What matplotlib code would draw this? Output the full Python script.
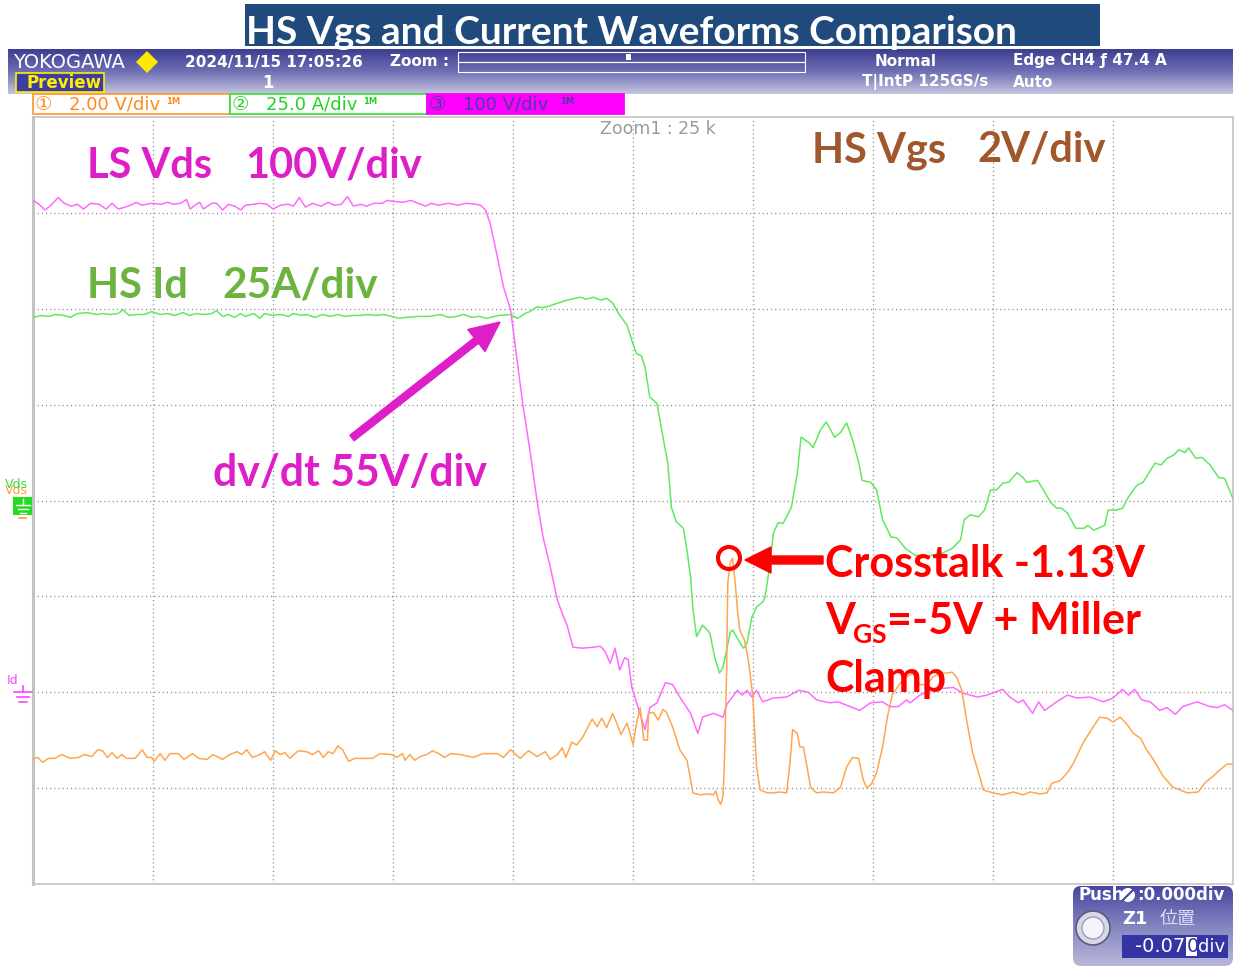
"""Yokogawa capture: HS Vgs and current waveforms comparison."""

import matplotlib

matplotlib.use("Agg")
import matplotlib.pyplot as plt
import numpy as np
from matplotlib import font_manager
from matplotlib.colors import LinearSegmentedColormap
from matplotlib.patches import Circle, FancyArrow, FancyBboxPatch, Polygon, Rectangle


VDS_T = [0.00, 0.05, 0.10, 0.15, 0.21, 0.26, 0.32, 0.37, 0.42, 0.48,
         0.55, 0.61, 0.66, 0.71, 0.77, 0.83, 0.86, 0.91, 0.99, 1.07,
         1.12, 1.17, 1.23, 1.28, 1.31, 1.36, 1.39, 1.42, 1.49, 1.53,
         1.58, 1.63, 1.68, 1.73, 1.77, 1.84, 1.89, 1.95, 2.00, 2.06,
         2.13, 2.17, 2.22, 2.27, 2.33, 2.40, 2.46, 2.51, 2.57, 2.62,
         2.67, 2.73, 2.78, 2.84, 2.91, 2.95, 3.00, 3.08, 3.15, 3.23,
         3.27, 3.32, 3.38, 3.46, 3.54, 3.61, 3.69, 3.73, 3.77, 3.81,
         3.87, 3.92, 3.98, 4.03, 4.08, 4.14, 4.20, 4.25, 4.31, 4.37,
         4.42, 4.45, 4.50, 4.58, 4.67, 4.73, 4.77, 4.81, 4.85, 4.89,
         4.93, 4.96, 4.99, 5.04, 5.10, 5.14, 5.20, 5.27, 5.33, 5.39,
         5.48, 5.54, 5.58, 5.67, 5.75, 5.78, 5.87, 5.91, 5.95, 5.99,
         6.03, 6.08, 6.17, 6.28, 6.38, 6.46, 6.53, 6.64, 6.71, 6.81,
         6.89, 6.98, 7.08, 7.14, 7.21, 7.28, 7.31, 7.39, 7.48, 7.58,
         7.67, 7.75, 7.87, 7.95, 8.08, 8.14, 8.21, 8.25, 8.33, 8.38,
         8.43, 8.53, 8.62, 8.70, 8.81, 8.92, 9.00, 9.08, 9.13, 9.18,
         9.24, 9.31, 9.39, 9.45, 9.52, 9.58, 9.70, 9.81, 9.87, 9.93,
         10.0]
VDS_V = [7.13, 7.09, 7.03, 7.08, 7.16, 7.10, 7.07, 7.09, 7.04, 7.10,
         7.09, 7.04, 7.10, 7.04, 7.06, 7.09, 7.11, 7.08, 7.10, 7.09,
         7.11, 7.09, 7.10, 7.14, 7.04, 7.09, 7.11, 7.04, 7.10, 7.10,
         7.03, 7.09, 7.07, 7.03, 7.08, 7.09, 7.10, 7.09, 7.04, 7.08,
         7.09, 7.07, 7.16, 7.06, 7.10, 7.07, 7.11, 7.08, 7.09, 7.17,
         7.07, 7.09, 7.07, 7.10, 7.10, 7.13, 7.12, 7.11, 7.13, 7.09,
         7.07, 7.10, 7.08, 7.10, 7.08, 7.10, 7.09, 7.08, 7.03, 6.89,
         6.54, 6.23, 5.99, 5.50, 5.02, 4.53, 4.00, 3.62, 3.31, 2.96,
         2.79, 2.70, 2.47, 2.46, 2.47, 2.48, 2.42, 2.30, 2.46, 2.23,
         2.36, 2.34, 2.05, 1.85, 1.61, 1.84, 1.89, 2.10, 2.08, 1.95,
         1.78, 1.57, 1.74, 1.78, 1.74, 1.87, 2.02, 1.97, 2.02, 1.95,
         2.02, 1.90, 1.94, 1.95, 2.02, 2.00, 1.92, 1.89, 1.90, 1.85,
         1.81, 1.89, 1.90, 1.85, 1.85, 1.92, 1.89, 1.97, 2.02, 2.04,
         2.05, 1.99, 1.95, 1.97, 2.03, 1.95, 1.89, 1.92, 1.78, 1.90,
         1.81, 1.90, 1.97, 1.94, 1.95, 1.90, 1.94, 2.03, 1.97, 2.03,
         1.92, 1.90, 1.81, 1.84, 1.77, 1.85, 1.90, 1.85, 1.84, 1.87,
         1.81]

ID_T = [0.00, 0.07, 0.13, 0.19, 0.26, 0.31, 0.37, 0.45, 0.53, 0.58,
        0.64, 0.71, 0.75, 0.80, 0.86, 0.93, 0.99, 1.06, 1.12, 1.18,
        1.25, 1.30, 1.36, 1.42, 1.49, 1.53, 1.58, 1.63, 1.68, 1.73,
        1.77, 1.84, 1.89, 1.93, 2.00, 2.06, 2.13, 2.17, 2.24, 2.28,
        2.35, 2.41, 2.48, 2.54, 2.60, 2.67, 2.73, 2.79, 2.86, 2.92,
        2.99, 3.05, 3.11, 3.21, 3.30, 3.40, 3.46, 3.53, 3.59, 3.66,
        3.72, 3.78, 3.88, 3.98, 4.04, 4.10, 4.14, 4.20, 4.25, 4.33,
        4.45, 4.56, 4.61, 4.67, 4.73, 4.78, 4.83, 4.89, 4.95, 4.99,
        5.03, 5.07, 5.10, 5.14, 5.20, 5.25, 5.29, 5.32, 5.36, 5.42,
        5.45, 5.48, 5.50, 5.53, 5.58, 5.64, 5.68, 5.72, 5.75, 5.78,
        5.81, 5.83, 5.88, 5.92, 5.95, 5.99, 6.03, 6.08, 6.10, 6.13,
        6.17, 6.21, 6.25, 6.28, 6.32, 6.37, 6.40, 6.47, 6.50, 6.56,
        6.61, 6.68, 6.73, 6.78, 6.83, 6.88, 6.91, 6.98, 7.03, 7.08,
        7.15, 7.20, 7.27, 7.35, 7.43, 7.56, 7.66, 7.73, 7.76, 7.81,
        7.88, 7.93, 7.98, 8.03, 8.08, 8.13, 8.20, 8.25, 8.28, 8.37,
        8.42, 8.48, 8.53, 8.57, 8.62, 8.69, 8.76, 8.79, 8.84, 8.93,
        8.96, 9.03, 9.08, 9.13, 9.20, 9.25, 9.30, 9.35, 9.40, 9.45,
        9.50, 9.55, 9.60, 9.63, 9.69, 9.74, 9.81, 9.88, 9.93, 9.98,
        10.0]
ID_V = [5.91, 5.93, 5.92, 5.94, 5.93, 5.91, 5.95, 5.96, 5.94, 5.95,
        5.94, 5.95, 5.99, 5.93, 5.94, 5.94, 5.97, 5.94, 5.95, 5.93,
        5.96, 5.93, 5.95, 5.94, 5.95, 5.98, 5.92, 5.94, 5.91, 5.95,
        5.92, 5.95, 5.90, 5.95, 5.93, 5.94, 5.92, 5.95, 5.93, 5.94,
        5.91, 5.94, 5.92, 5.94, 5.92, 5.93, 5.93, 5.94, 5.93, 5.94,
        5.92, 5.90, 5.91, 5.92, 5.92, 5.94, 5.91, 5.92, 5.94, 5.91,
        5.92, 5.90, 5.93, 5.94, 5.90, 5.95, 5.97, 6.02, 6.01, 6.04,
        6.09, 6.12, 6.10, 6.12, 6.09, 6.11, 6.06, 5.93, 5.83, 5.67,
        5.53, 5.51, 5.39, 5.08, 5.01, 4.66, 4.39, 3.93, 3.78, 3.71,
        3.48, 3.20, 2.86, 2.58, 2.70, 2.62, 2.37, 2.20, 2.26, 2.44,
        2.62, 2.65, 2.54, 2.46, 2.51, 2.78, 2.89, 2.94, 2.99, 3.24,
        3.66, 3.77, 3.76, 3.83, 3.93, 4.29, 4.66, 4.60, 4.55, 4.73,
        4.82, 4.66, 4.71, 4.81, 4.63, 4.40, 4.21, 4.19, 4.11, 3.80,
        3.62, 3.61, 3.50, 3.43, 3.42, 3.44, 3.50, 3.59, 3.80, 3.85,
        3.83, 3.90, 4.11, 4.11, 4.18, 4.19, 4.29, 4.24, 4.19, 4.21,
        4.11, 3.98, 3.92, 3.92, 3.87, 3.71, 3.71, 3.74, 3.69, 3.74,
        3.90, 3.90, 3.92, 4.04, 4.16, 4.19, 4.29, 4.39, 4.37, 4.44,
        4.47, 4.53, 4.50, 4.55, 4.44, 4.45, 4.37, 4.24, 4.23, 4.08,
        4.02]

VGS_T = [0.00, 0.04, 0.08, 0.13, 0.18, 0.24, 0.31, 0.38, 0.43, 0.49,
         0.54, 0.58, 0.62, 0.66, 0.70, 0.74, 0.78, 0.85, 0.91, 0.95,
         0.99, 1.01, 1.06, 1.10, 1.14, 1.21, 1.26, 1.33, 1.38, 1.45,
         1.50, 1.58, 1.64, 1.70, 1.74, 1.78, 1.83, 1.89, 1.93, 1.98,
         2.02, 2.06, 2.10, 2.14, 2.21, 2.28, 2.33, 2.38, 2.42, 2.46,
         2.50, 2.54, 2.58, 2.63, 2.68, 2.75, 2.83, 2.89, 2.99, 3.03,
         3.08, 3.10, 3.14, 3.18, 3.23, 3.28, 3.33, 3.38, 3.43, 3.48,
         3.56, 3.67, 3.75, 3.87, 3.92, 3.98, 4.06, 4.13, 4.20, 4.27,
         4.31, 4.37, 4.41, 4.44, 4.49, 4.53, 4.58, 4.66, 4.70, 4.74,
         4.78, 4.83, 4.87, 4.90, 4.95, 4.98, 5.00, 5.03, 5.06, 5.09,
         5.12, 5.13, 5.17, 5.21, 5.25, 5.28, 5.33, 5.39, 5.45, 5.50,
         5.56, 5.62, 5.67, 5.69, 5.71, 5.73, 5.75, 5.76, 5.77, 5.78,
         5.785, 5.79, 5.81, 5.83, 5.835, 5.85, 5.87, 5.89, 5.93, 5.96,
         5.99, 6.00, 6.03, 6.06, 6.12, 6.17, 6.22, 6.28, 6.31, 6.33,
         6.37, 6.39, 6.42, 6.45, 6.48, 6.53, 6.58, 6.67, 6.73, 6.78,
         6.83, 6.88, 6.92, 6.95, 6.99, 7.03, 7.08, 7.12, 7.16, 7.23,
         7.28, 7.33, 7.39, 7.45, 7.50, 7.56, 7.62, 7.66, 7.70, 7.74,
         7.78, 7.83, 7.88, 7.92, 8.00, 8.08, 8.17, 8.25, 8.31, 8.39,
         8.45, 8.49, 8.56, 8.62, 8.67, 8.75, 8.83, 8.89, 8.95, 9.00,
         9.06, 9.12, 9.17, 9.23, 9.28, 9.33, 9.42, 9.50, 9.62, 9.71,
         9.77, 9.83, 9.89, 9.95, 10.0]
VGS_V = [1.31, 1.32, 1.27, 1.31, 1.31, 1.35, 1.31, 1.32, 1.35, 1.33,
         1.40, 1.39, 1.32, 1.37, 1.31, 1.35, 1.31, 1.31, 1.40, 1.32,
         1.32, 1.28, 1.36, 1.29, 1.36, 1.36, 1.30, 1.36, 1.31, 1.30,
         1.35, 1.30, 1.35, 1.38, 1.35, 1.40, 1.32, 1.35, 1.38, 1.29,
         1.39, 1.35, 1.37, 1.31, 1.39, 1.38, 1.35, 1.39, 1.32, 1.38,
         1.36, 1.44, 1.40, 1.28, 1.31, 1.31, 1.31, 1.36, 1.35, 1.32,
         1.36, 1.29, 1.35, 1.29, 1.33, 1.35, 1.39, 1.36, 1.32, 1.36,
         1.35, 1.32, 1.36, 1.36, 1.32, 1.40, 1.31, 1.39, 1.33, 1.38,
         1.30, 1.35, 1.42, 1.32, 1.48, 1.45, 1.53, 1.72, 1.64, 1.73,
         1.63, 1.78, 1.66, 1.56, 1.68, 1.55, 1.45, 1.68, 1.84, 1.50,
         1.50, 1.78, 1.79, 1.71, 1.82, 1.79, 1.64, 1.40, 1.29, 0.95,
         0.93, 0.94, 0.93, 0.97, 0.88, 0.83, 0.91, 1.19, 1.68, 2.20,
         2.72, 3.14, 3.35, 3.40, 3.31, 3.17, 2.86, 2.65, 2.54, 2.34,
         2.05, 1.92, 1.22, 0.98, 0.95, 0.95, 0.96, 0.95, 1.29, 1.61,
         1.57, 1.43, 1.43, 1.22, 1.01, 0.95, 0.96, 0.95, 1.01, 1.22,
         1.32, 1.31, 1.08, 1.00, 1.05, 1.16, 1.43, 1.74, 1.97, 2.10,
         2.16, 2.20, 2.08, 2.08, 2.16, 2.20, 2.20, 2.21, 2.15, 2.02,
         1.71, 1.37, 1.16, 0.98, 0.95, 0.93, 0.96, 0.93, 0.96, 0.94,
         0.95, 1.05, 1.08, 1.16, 1.26, 1.47, 1.63, 1.74, 1.73, 1.69,
         1.74, 1.66, 1.57, 1.52, 1.40, 1.31, 1.12, 1.01, 0.95, 0.96,
         1.06, 1.12, 1.19, 1.25, 1.25]

CHANNEL_LABELS = ["\u2460", "\u2461", "\u2462"]
CHANNEL_SCALES = ["2.00 V/div", "25.0 A/div", "100 V/div"]

W, H, DPI = 1235, 966, 100
C_VGS, C_ID, C_VDS = "#FFA64D", "#5EEA5E", "#FF6AFF"
C_MAG, C_GRN, C_BRN, C_RED = "#DE1FC8", "#6CB33F", "#A0572B", "#FF0000"

installed = {f.name for f in font_manager.fontManager.ttflist}
NARROW = "Liberation Sans Narrow" if "Liberation Sans Narrow" in installed else "DejaVu Sans"
SCOPE = [NARROW, "DejaVu Sans"]
SLIDE = "Lato" if "Lato" in installed else "DejaVu Sans"

fig = plt.figure(figsize=(W / DPI, H / DPI), dpi=DPI)

# graticule, figure pixels x 33..1233, y 117..884
GL, GR, GT, GB = 33, 1233, 117, 884
ax = fig.add_axes([GL / W, 1 - GB / H, (GR - GL) / W, (GB - GT) / H], zorder=1)
ax.set_xlim(0, 10)
ax.set_ylim(0, 8)
ax.set_xticks([])
ax.set_yticks([])
for side, spine in ax.spines.items():
    spine.set_color("#c4c4c4")
    spine.set_linewidth(2.2 if side == "left" else 1.2)
for gx in range(1, 10):
    ax.axvline(gx, color="#8c8c8c", lw=1.0, ls=(0, (0.8, 2.2)), zorder=1)
for gy in range(1, 8):
    ax.axhline(gy, color="#8c8c8c", lw=1.0, ls=(0, (0.8, 2.2)), zorder=1)

ax.plot(VDS_T, VDS_V, color=C_VDS, lw=1.1, zorder=3)
ax.plot(ID_T, ID_V, color=C_ID, lw=1.1, zorder=3)
ax.plot(VGS_T, VGS_V, color=C_VGS, lw=1.1, zorder=4)

# overlay in figure pixels (y down)
ov = fig.add_axes([0, 0, 1, 1], zorder=2)
ov.set_axis_off()
ov.patch.set_alpha(0)


def gradient(x0, x1, y0, y1, colors, clip=None):
    cmap = LinearSegmentedColormap.from_list("g", colors)
    im = ov.imshow(np.linspace(0, 1, 64).reshape(-1, 1), cmap=cmap, aspect="auto",
                   extent=[x0, x1, y1, y0], interpolation="bilinear", zorder=1)
    if clip is not None:
        im.set_clip_path(clip)


# slide title
ov.add_patch(Rectangle((245, 4), 855, 42, facecolor="#20497C", edgecolor="none", zorder=1))
ov.text(246, 44, "HS Vgs and Current Waveforms Comparison", color="white", fontsize=28,
        fontfamily=SLIDE, fontweight="bold", va="baseline", zorder=6)

# scope header
HEAD = ["#3E3E92", "#6F6FB4", "#C4C4E0"]
gradient(8, 1233, 49, 94, HEAD)
ov.text(13, 62, "YOKOGAWA", color="white", fontsize=14, fontfamily=SCOPE, va="center", zorder=3)
ov.add_patch(Polygon([(147, 51), (158, 62), (147, 73), (136, 62)], closed=True,
                     facecolor="#FFE800", edgecolor="none", zorder=3))
ov.text(185, 62, "2024/11/15 17:05:26", color="white", fontsize=11, fontfamily=SCOPE,
        fontweight="bold", va="center", zorder=3)
ov.text(390, 62, "Zoom :", color="white", fontsize=11, fontfamily=SCOPE, fontweight="bold",
        va="center", zorder=3)
ov.add_patch(Rectangle((458, 52), 347, 10, facecolor="none", edgecolor="white", lw=0.8, zorder=3))
ov.add_patch(Rectangle((458, 62), 347, 10, facecolor="none", edgecolor="white", lw=0.8, zorder=3))
ov.add_patch(Rectangle((626, 54), 5, 6, facecolor="white", edgecolor="none", zorder=3))
ov.add_patch(Rectangle((16, 73), 88, 19, facecolor="#3E3EA2", edgecolor="#FFEE00", lw=1.2, zorder=3))
ov.text(27, 82.5, "Preview", color="#FFEE00", fontsize=12, fontfamily=SCOPE, fontweight="bold",
        va="center", zorder=4)
ov.text(262, 82.5, "1", color="white", fontsize=12, fontfamily=SCOPE, fontweight="bold",
        va="center", zorder=3)
ov.text(875, 61, "Normal", color="white", fontsize=11, fontfamily=SCOPE, fontweight="bold",
        va="center", zorder=3)
ov.text(862, 82.5, "T|IntP 125GS/s", color="white", fontsize=11, fontfamily=SCOPE,
        fontweight="bold", va="center", zorder=3)
ov.text(1013, 61, "Edge CH4 \u0192 47.4 A", color="white", fontsize=11, fontfamily=SCOPE,
        fontweight="bold", va="center", zorder=3)
ov.text(1013, 82.5, "Auto", color="white", fontsize=11, fontfamily=SCOPE, fontweight="bold",
        va="center", zorder=3)

# channel bar
box_x = [33, 230, 427]
edge_c = ["#FF9A3C", "#3EE03E", "#FF00FF"]
face_c = ["white", "white", "#FF00FF"]
text_c = ["#FF8A1A", "#22D422", "#4B3BA6"]
for i in range(3):
    ov.add_patch(Rectangle((box_x[i], 94), 197, 20, facecolor=face_c[i], edgecolor=edge_c[i],
                           lw=1.3, zorder=3))
    ov.text(box_x[i] + 2, 104.5, CHANNEL_LABELS[i], color=text_c[i], fontsize=14,
            fontfamily="DejaVu Sans", va="center", zorder=4)
    ov.text(box_x[i] + 36, 104.5, CHANNEL_SCALES[i], color=text_c[i], fontsize=13,
            fontfamily=SCOPE, va="center", zorder=4)
    ov.text(box_x[i] + 133, 101, "1M", color=text_c[i], fontsize=6, fontfamily=SCOPE,
            fontweight="bold", va="center", zorder=4)
ov.text(600, 129, "Zoom1 : 25 k", color="#9a9a9a", fontsize=12.5, fontfamily=SCOPE,
        va="center", zorder=3)

# ground markers on the left edge
ov.text(5, 490, "Vds", color="#FF9A3C", fontsize=9, fontfamily="DejaVu Sans", va="center", zorder=3)
ov.text(5, 484, "Vds", color="#33DD33", fontsize=9, fontfamily="DejaVu Sans", va="center", zorder=3)
ov.add_patch(Rectangle((13, 497), 19, 18, facecolor="#22DD22", edgecolor="none", zorder=3))
for yy, half in [(505, 7), (509, 5), (513, 3)]:
    ov.plot([22.5 - half, 22.5 + half], [yy, yy], color="white", lw=1.0, zorder=4)
ov.plot([22.5, 22.5], [499, 505], color="white", lw=1.0, zorder=4)
ov.plot([19, 26], [518, 518], color="#FF9A3C", lw=1.2, zorder=4)
ov.text(7, 680, "Id", color="#FF44FF", fontsize=9, fontfamily="DejaVu Sans", va="center", zorder=3)
for yy, half in [(692, 9), (697, 6), (702, 4)]:
    ov.plot([23 - half, 23 + half], [yy, yy], color="#FF44FF", lw=1.2, zorder=4)
ov.plot([23, 23], [686, 692], color="#FF44FF", lw=1.2, zorder=4)


# slide annotations
def label(x, y, s, color, size):
    ov.text(x, y, s, color=color, fontsize=size, fontfamily=SLIDE, fontweight="bold",
            va="baseline", zorder=6)


label(87, 178, "LS Vds", C_MAG, 30)
label(245, 178, "100V/div", C_MAG, 30)
label(87, 298, "HS Id", C_GRN, 30)
label(222, 298, "25A/div", C_GRN, 30.5)
label(812, 162, "HS Vgs", C_BRN, 30)
label(977, 162, "2V/div", C_BRN, 30)
label(213, 486, "dv/dt 55V/div", C_MAG, 30.8)
label(825, 577, "Crosstalk -1.13V", C_RED, 31)
label(825, 634, "V", C_RED, 31)
label(853, 643, "GS", C_RED, 19)
label(887, 634, "=-5V + Miller", C_RED, 31)
label(825, 692, "Clamp", C_RED, 31)

ov.add_patch(FancyArrow(352, 438, 148, -116, width=7, head_width=28, head_length=30,
                        length_includes_head=True, color=C_MAG, zorder=6))
ov.add_patch(FancyArrow(823, 560, -78, 0, width=8, head_width=26, head_length=26,
                        length_includes_head=True, color=C_RED, zorder=6))
ov.add_patch(Circle((729, 558), 11, facecolor="none", edgecolor=C_RED, lw=3, zorder=6))

# zoom position panel, bottom right
panel = FancyBboxPatch((1073, 886), 160, 80, boxstyle="round,pad=0,rounding_size=8",
                       facecolor="none", edgecolor="none", zorder=1)
ov.add_patch(panel)
gradient(1073, 1233, 886, 966, ["#4646A0", "#8484C0", "#B8B8DA"], clip=panel)
ov.text(1078, 895, "Push", color="white", fontsize=12, fontfamily=SCOPE, fontweight="bold",
        va="center", zorder=3)
ov.add_patch(Circle((1128, 895), 7, facecolor="white", edgecolor="none", zorder=3))
ov.plot([1123, 1133], [900, 890], color="#4646A0", lw=1.5, zorder=4)
ov.text(1137, 895, ":0.000div", color="white", fontsize=12, fontfamily=SCOPE, fontweight="bold",
        va="center", zorder=3)
ov.text(1122, 919, "Z1", color="white", fontsize=13, fontfamily=SCOPE, fontweight="bold",
        va="center", zorder=3)
ov.text(1160, 919, "位置", color="#DCDCFA", fontsize=13,
        fontfamily=["Noto Sans CJK JP", "DejaVu Sans"], va="center", zorder=3)
ov.add_patch(Rectangle((1122, 935), 106, 23, facecolor="#3434A4", edgecolor="none", zorder=3))
ov.add_patch(Rectangle((1186, 937), 11, 19, facecolor="white", edgecolor="none", zorder=4))
ov.text(1185, 946.5, "-0.07", color="white", fontsize=14, fontfamily=SCOPE, va="center",
        ha="right", zorder=5)
ov.text(1187, 946.5, "0", color="#3434A4", fontsize=14, fontfamily=SCOPE, va="center", zorder=5)
ov.text(1198, 946.5, "div", color="white", fontsize=13, fontfamily=SCOPE, va="center", zorder=5)
ov.add_patch(Circle((1093, 928), 17, facecolor="#D8D8E4", edgecolor="#5A5A80", lw=1.2, zorder=3))
ov.add_patch(Circle((1093, 928), 11, facecolor="#F4F4FA", edgecolor="#9A9AB8", lw=1.0, zorder=4))

ov.set_xlim(0, W)
ov.set_ylim(H, 0)

fig.savefig("out.png", dpi=DPI)
